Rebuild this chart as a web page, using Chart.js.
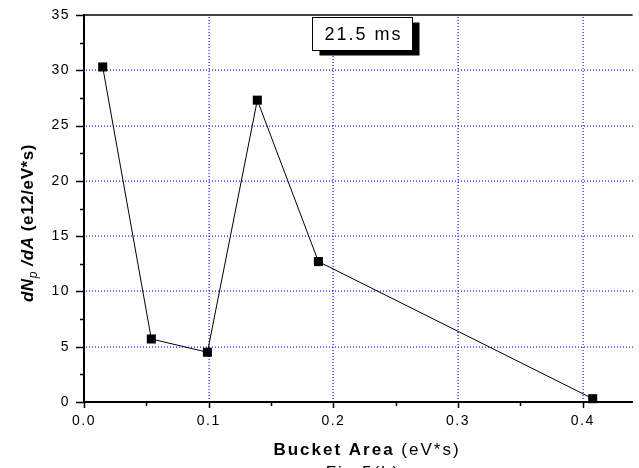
<!DOCTYPE html>
<html>
<head>
<meta charset="utf-8">
<script src="https://cdn.jsdelivr.net/npm/chart.js@4"></script>
<style>
  html, body { margin: 0; padding: 0; background: #fff; }
  #wrap { width: 639px; height: 468px; }
</style>
</head>
<body>
<div id="wrap"><canvas id="bucket-chart" width="639" height="468"></canvas></div>
<script>
// Proton density vs bucket area at 21.5 ms
const bucketAreas = [0.015, 0.054, 0.099, 0.139, 0.188, 0.408];
const densities = [30.3, 5.7, 4.5, 27.3, 12.7, 0.3];

const xTicks = [0, 0.1, 0.2, 0.3, 0.4];
const yTicks = [0, 5, 10, 15, 20, 25, 30, 35];
const xRange = [0, 0.44];
const yRange = [0, 35];

const timeLabel = "21.5 ms";
const timeLabelAt = { x: 0.183, y: 34.8 };
const yTitleRuns = [
  { text: "dN", font: "italic bold 17px" },
  { text: "p", font: "italic 12px", dy: 4 },
  { text: " /dA", font: "italic bold 17px" },
  { text: " (e12/eV*s)", font: "bold 17px" },
];
const xTitleRuns = [
  { text: "Bucket Area ", font: "bold 17px" },
  { text: "(eV*s)", font: "17px" },
];
const caption = "Fig.5(b)";

const FONT = "'Liberation Sans', Arial, sans-serif";
const GRID_BLUE = "#1414ff";

function midpoints(values) {
  const out = [];
  for (let i = 0; i < values.length - 1; i++) out.push((values[i] + values[i + 1]) / 2);
  return out;
}

// draws a row of differently styled text pieces centred on (0, 0)
function drawRuns(ctx, runs, spacing) {
  ctx.letterSpacing = spacing;
  let total = 0;
  const widths = runs.map((r) => {
    ctx.font = `${r.font} ${FONT}`;
    const w = ctx.measureText(r.text).width;
    total += w;
    return w;
  });
  let x = -total / 2;
  ctx.textAlign = "left";
  ctx.textBaseline = "alphabetic";
  runs.forEach((r, i) => {
    ctx.font = `${r.font} ${FONT}`;
    ctx.fillText(r.text, x, r.dy || 0);
    x += widths[i];
  });
}

const decorations = {
  id: "decorations",
  beforeDraw(chart) {
    const ctx = chart.ctx;
    ctx.save();
    ctx.fillStyle = "#fff";
    ctx.fillRect(0, 0, chart.width, chart.height);
    ctx.restore();
    // tick labels are spaced out a little
    ctx.letterSpacing = "1.5px";
  },
  beforeDatasetsDraw(chart) {
    // dotted grid; dots sit on a pixel edge so they come out soft, 2px across
    const { ctx, chartArea, scales } = chart;
    const left = Math.round(chartArea.left) + 2;
    const right = Math.round(chartArea.right);
    const top = Math.round(chartArea.top) + 2;
    const bottom = Math.round(chartArea.bottom) - 1;
    ctx.save();
    ctx.fillStyle = GRID_BLUE;
    yTicks.slice(1, -1).forEach((v) => {
      const y = Math.round(scales.y.getPixelForValue(v)) - 0.5;
      for (let x = left; x < right; x += 3) ctx.fillRect(x, y, 1, 1.2);
    });
    xTicks.slice(1).forEach((v) => {
      const x = Math.round(scales.x.getPixelForValue(v)) - 0.5;
      for (let y = top; y < bottom; y += 3) ctx.fillRect(x, y, 1.2, 1);
    });
    ctx.restore();
  },
  afterDraw(chart) {
    const { ctx, chartArea, scales } = chart;
    const xs = scales.x;
    const ys = scales.y;
    ctx.save();
    ctx.letterSpacing = "0px";
    ctx.strokeStyle = "#000";

    // top frame line
    ctx.lineWidth = 1.5;
    ctx.beginPath();
    ctx.moveTo(chartArea.left, chartArea.top);
    ctx.lineTo(chartArea.right, chartArea.top);
    ctx.stroke();

    // outward tick marks, major and minor
    ctx.lineWidth = 1.5;
    ctx.beginPath();
    yTicks.forEach((v) => {
      const y = Math.round(ys.getPixelForValue(v)) + 0.5;
      ctx.moveTo(chartArea.left - 8, y);
      ctx.lineTo(chartArea.left, y);
    });
    midpoints(yTicks).forEach((v) => {
      const y = Math.round(ys.getPixelForValue(v)) + 0.5;
      ctx.moveTo(chartArea.left - 4, y);
      ctx.lineTo(chartArea.left, y);
    });
    xTicks.forEach((v) => {
      const x = Math.round(xs.getPixelForValue(v)) + 0.5;
      ctx.moveTo(x, chartArea.bottom);
      ctx.lineTo(x, chartArea.bottom + 6);
    });
    midpoints(xTicks).forEach((v) => {
      const x = Math.round(xs.getPixelForValue(v)) + 0.5;
      ctx.moveTo(x, chartArea.bottom);
      ctx.lineTo(x, chartArea.bottom + 4);
    });
    ctx.stroke();

    // time label box with drop shadow
    const bx = Math.round(xs.getPixelForValue(timeLabelAt.x)) + 0.5;
    const by = Math.round(ys.getPixelForValue(timeLabelAt.y)) + 0.5;
    const bw = 100;
    const bh = 33;
    ctx.fillStyle = "#000";
    ctx.fillRect(bx + 7, by + 5, bw, bh);
    ctx.fillStyle = "#fff";
    ctx.fillRect(bx, by, bw, bh);
    ctx.lineWidth = 1;
    ctx.strokeRect(bx, by, bw, bh);
    ctx.fillStyle = "#000";
    ctx.save();
    ctx.translate(bx + bw / 2 + 1, by + 22);
    drawRuns(ctx, [{ text: timeLabel, font: "18px" }], "2px");
    ctx.restore();

    // axis titles
    ctx.save();
    ctx.translate(33, 223);
    ctx.rotate(-Math.PI / 2);
    drawRuns(ctx, yTitleRuns, "0.6px");
    ctx.restore();

    ctx.save();
    ctx.translate(367, 455);
    drawRuns(ctx, xTitleRuns, "2px");
    ctx.restore();

    ctx.save();
    ctx.translate(363, 478);
    drawRuns(ctx, [{ text: caption, font: "17px" }], "2px");
    ctx.restore();

    ctx.restore();
  },
};

new Chart(document.getElementById("bucket-chart"), {
  type: "line",
  data: {
    datasets: [
      {
        data: bucketAreas.map((x, i) => ({ x, y: densities[i] })),
        borderColor: "#000",
        borderWidth: 1,
        pointStyle: "rect",
        pointRadius: 6.4,
        pointBackgroundColor: "#000",
        pointBorderWidth: 0,
        tension: 0,
        fill: false,
        clip: false,
      },
    ],
  },
  options: {
    responsive: false,
    animation: false,
    layout: { padding: { top: 15, right: 1, left: 0, bottom: 0 } },
    plugins: { legend: { display: false }, tooltip: { enabled: false } },
    scales: {
      x: {
        type: "linear",
        min: xRange[0],
        max: xRange[1],
        afterBuildTicks: (s) => { s.ticks = xTicks.map((v) => ({ value: v })); },
        afterFit: (s) => {
          s.height = 66;
          s.paddingLeft = 0;
          s.paddingRight = 0;
        },
        grid: { display: false, drawTicks: false },
        border: { display: true, color: "#000", width: 2 },
        ticks: {
          color: "#000",
          padding: 11,
          maxRotation: 0,
          font: { family: FONT, size: 14 },
          callback: (v) => Number(v).toFixed(1),
        },
      },
      y: {
        type: "linear",
        min: yRange[0],
        max: yRange[1],
        afterBuildTicks: (s) => { s.ticks = yTicks.map((v) => ({ value: v })); },
        afterFit: (s) => {
          s.width = 84;
          s.paddingTop = 0;
          s.paddingBottom = 0;
        },
        grid: { display: false, drawTicks: false },
        border: { display: true, color: "#000", width: 2 },
        ticks: {
          color: "#000",
          padding: 14,
          font: { family: FONT, size: 14 },
          callback: (v) => String(v),
        },
      },
    },
  },
  plugins: [decorations],
});
</script>
</body>
</html>
